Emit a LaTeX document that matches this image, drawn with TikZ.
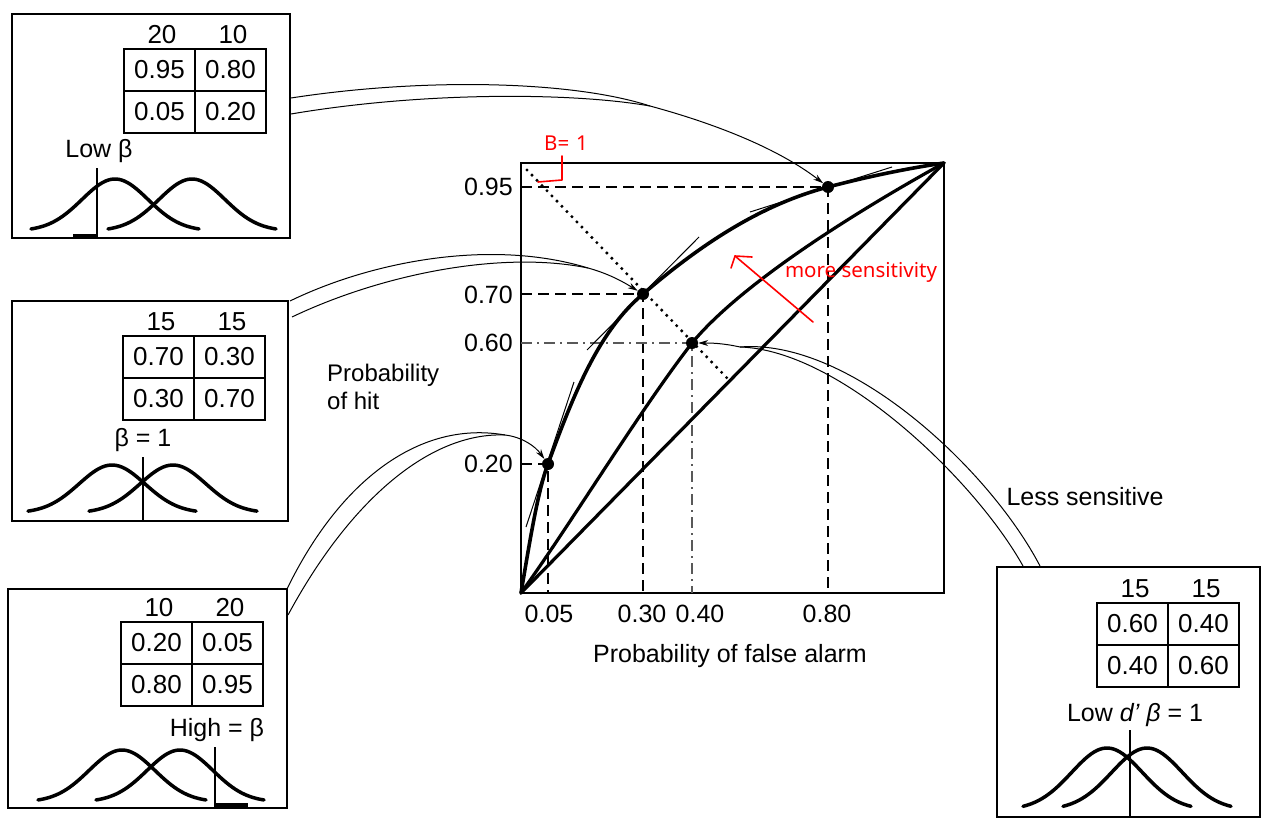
\documentclass[tikz,border=0pt]{standalone}
\usepackage{fontspec}
\setmainfont{Liberation Sans}
\newfontfamily\redfont{Noto Sans}
\usetikzlibrary{arrows.meta}
\tikzset{
  framebox/.style={draw, line width=2pt, inner sep=0pt},
  cell/.style={draw, line width=1.4pt, inner sep=0pt, minimum width=71pt, minimum height=42pt, font=\fontsize{26}{28}\selectfont},
  hdr/.style={inner sep=0pt, font=\fontsize{26}{28}\selectfont},
  lbl/.style={inner sep=0pt, font=\fontsize{25}{28}\selectfont},
  gcurve/.style={line width=3.5pt, line cap=round},
  crit/.style={line width=1.3pt},
  critbar/.style={line width=4.5pt},
  roc/.style={line width=3.2pt, line cap=round},
  tang/.style={line width=1pt},
  guide/.style={line width=1.4pt, dash pattern=on 11pt off 6pt},
  guidelight/.style={line width=1.3pt, black!65, dash pattern=on 11pt off 5pt on 2pt off 5pt},
  dotline/.style={line width=3.4pt, line cap=round, dash pattern=on 0pt off 7.2pt},
  pt/.style={circle, fill=black, inner sep=0pt, minimum size=12pt},
  conn/.style={line width=1pt},
  arr/.style={line width=1pt, -{Stealth[length=10pt,width=6pt]}},
  redline/.style={draw=red, line width=1.6pt, line cap=round, line join=round},
  redtext/.style={text=red, inner sep=0pt, font=\redfont\fontsize{20.5}{22}\selectfont}
}
\newcommand\tbl[9]{%
  \node[cell] (#1a) at (#2+35.5,#3+21) {#6};
  \node[cell] (#1b) at (#2+106.5,#3+21) {#7};
  \node[cell] (#1c) at (#2+35.5,#3+63) {#8};
  \node[cell] (#1d) at (#2+106.5,#3+63) {#9};
  \node[hdr] (#1h1) at (#2+38,#3-14) {#4};
  \node[hdr] (#1h2) at (#2+109,#3-14) {#5};
}
\newcommand\gauss[4]{%
  \draw[gcurve] plot[domain=-84:84, samples=60, smooth] ({#1+\x},{#2-#3*exp(-(\x*\x)/#4)});
}
\begin{document}
\begin{tikzpicture}[x=1pt,y=-1pt]
\useasboundingbox (0,0) rectangle (1274,835);

% ---------- boxes ----------
\node[framebox, minimum width=278pt, minimum height=224pt] (b1) at (151,126) {};
\node[framebox, minimum width=276pt, minimum height=220pt] (b2) at (150,411) {};
\node[framebox, minimum width=279pt, minimum height=219pt] (b3) at (147.5,698.5) {};
\node[framebox, minimum width=263pt, minimum height=250pt] (b4) at (1128.5,692) {};

% tables
\tbl{t1}{124}{49}{20}{10}{0.95}{0.80}{0.05}{0.20}
\tbl{t2}{123}{336}{15}{15}{0.70}{0.30}{0.30}{0.70}
\tbl{t3}{121}{622}{10}{20}{0.20}{0.05}{0.80}{0.95}
\tbl{t4}{1097}{603}{15}{15}{0.60}{0.40}{0.40}{0.60}

% box labels
\node[lbl] (l1) at (99,151) {Low β};
\node[lbl] (l2) at (143,440) {β = 1};
\node[lbl] (l3) at (217,730) {High = β};
\node[lbl] (l4) at (1135,715) {Low \textit{d’ β} = 1};

% distributions
\gauss{115}{231}{52}{2178}
\gauss{192}{231}{52}{2178}
\draw[crit] (97,168) -- (97,237);
\draw[critbar] (73,236) -- (97,236);

\gauss{112}{513}{48}{2178}
\gauss{173}{513}{48}{2178}
\draw[crit] (143,457) -- (143,520);

\gauss{122}{802}{52}{2178}
\gauss{180}{802}{52}{2178}
\draw[crit] (215,747) -- (215,807);
\draw[critbar] (215,805) -- (248,805);

\gauss{1107}{810}{62}{2500}
\gauss{1147}{810}{62}{2500}
\draw[crit] (1130,730) -- (1130,816);

% ---------- ROC plot ----------
\node[framebox, minimum width=423pt, minimum height=430pt] (plot) at (732.5,378) {};
\coordinate (O) at (521,593);
\coordinate (T) at (944,163);

% dashed guides
\draw[guide] (521,187) -- (828,187) -- (828,593);
\draw[guide] (521,294) -- (643,294) -- (643,593);
\draw[guidelight] (521,343) -- (692,343) -- (692,593);
\draw[guide] (521,464) -- (548,464) -- (548,593);

% dotted beta = 1 line
\coordinate (d1) at (527,170);
\coordinate (d2) at (727,378);
\draw[dotline] (d1) -- (d2);

% ROC curves
\draw[roc] (O) -- (T);
\draw[roc] (O) .. controls (570,525) and (640,410) .. (692,343)
               .. controls (740,285) and (850,215) .. (T);
\draw[roc, line width=3.6pt] (O) .. controls (530,540) and (538,490) .. (548,464)
               .. controls (575,390) and (600,330) .. (643,294)
               .. controls (700,245) and (760,205) .. (828,187)
               .. controls (870,176) and (910,168) .. (T);

% tangent lines
\draw[tang] (526,527) -- (574,382);
\draw[tang] (587,350) -- (699,237);
\draw[tang] (750,212) -- (892,167);

% points
\node[pt] (p95) at (828,187) {};
\node[pt] (p70) at (643,294) {};
\node[pt] (p60) at (692,343) {};
\node[pt] (p20) at (548,464) {};

% axis labels
\node[lbl, anchor=east] (y95) at (513,187) {0.95};
\node[lbl, anchor=east] (y70) at (513,295) {0.70};
\node[lbl, anchor=east] (y60) at (513,343) {0.60};
\node[lbl, anchor=east] (y20) at (513,464) {0.20};
\node[lbl] (x05) at (549,614) {0.05};
\node[lbl] (x30) at (642,614) {0.30};
\node[lbl] (x40) at (700,614) {0.40};
\node[lbl] (x80) at (827,614) {0.80};
\node[lbl] (xlab) at (730,656) {Probability of false alarm};
\node[lbl, align=left, anchor=west, font=\fontsize{24}{28}\selectfont] (ylab) at (327,387) {Probability\\of hit};
\node[lbl] (less) at (1085,497) {Less sensitive};

% ---------- connectors ----------
\coordinate (s1a) at (291,98);
\coordinate (s1b) at (291,114);
\coordinate (m1) at (650,106);
\draw[conn] (s1a) .. controls (420,78) and (570,80) .. (m1);
\draw[conn] (s1b) .. controls (420,92) and (570,92) .. (m1);
\draw[arr] (m1) .. controls (720,125) and (780,150) .. (p95);

\coordinate (s2a) at (290,301);
\coordinate (s2b) at (292,317);
\coordinate (m2) at (588,268);
\draw[conn] (s2a) .. controls (370,262) and (490,238) .. (m2);
\draw[conn] (s2b) .. controls (380,275) and (500,250) .. (m2);
\draw[arr] (m2) .. controls (610,274) and (625,283) .. (p70);

\coordinate (s3a) at (287,589);
\coordinate (s3b) at (288,615);
\coordinate (m3) at (505,435);
\draw[conn] (s3a) .. controls (340,480) and (420,420) .. (m3);
\draw[conn] (s3b) .. controls (350,500) and (430,432) .. (m3);
\draw[arr] (m3) .. controls (522,437) and (535,446) .. (p20);

\coordinate (s4a) at (1023,566);
\coordinate (s4b) at (1040,566);
\coordinate (m4) at (740,347);
\draw[conn] (s4a) .. controls (975,480) and (840,350) .. (m4);
\draw[conn] (s4b) .. controls (990,470) and (850,338) .. (m4);
\draw[arr] (m4) .. controls (722,343) and (710,343) .. (p60);

% ---------- red annotations ----------
\node[redtext] (beq) at (566,143) {B=\,\,1};
\coordinate (r1) at (562,156);
\coordinate (r2) at (562,180);
\coordinate (r3) at (538,182);
\draw[redline] (r1) -- (r2) -- (r3);
\coordinate (ra) at (813,322);
\coordinate (rb) at (735,256);
\draw[redline] (ra) -- (rb);
\draw[redline] (731,268) -- (rb) -- (752,257);
\node[redtext] (more) at (861,272) {more sensitivity};
\end{tikzpicture}
\end{document}
